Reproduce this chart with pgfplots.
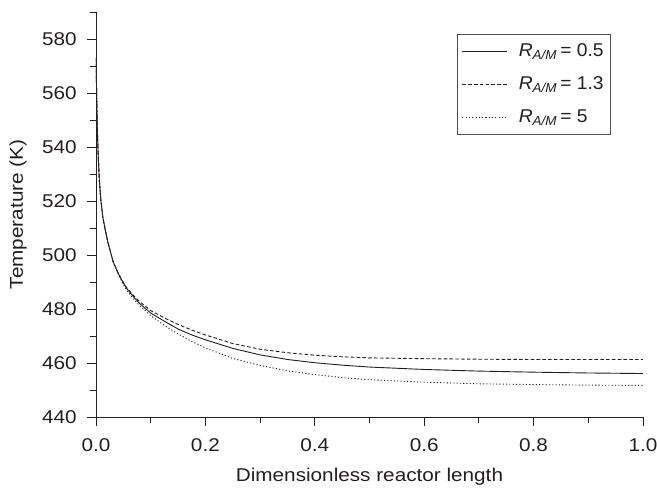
\documentclass[border=0pt]{standalone}
\usepackage{pgfplots}
\pgfplotsset{compat=1.18}
\usepackage{fontspec}
\setmainfont{Liberation Sans}[FakeStretch=1.12]
\newfontfamily\legfont{Liberation Sans}[FakeStretch=1.04]
\definecolor{ink}{HTML}{231F20}
\newcommand{\fs}{\fontsize{18.5}{22}\selectfont}
\begin{document}
\fs
\begin{tikzpicture}
\useasboundingbox (-96pt,-72pt) rectangle (561pt,417pt);
\begin{axis}[
  at={(0,0)}, anchor=south west,
  scale only axis, width=547pt, height=405pt,
  xmin=0, xmax=1, ymin=440, ymax=590,
  axis x line*=bottom, axis y line*=left,
  axis line style={line width=0.9pt, color=ink, -},
  xtick={0,0.2,0.4,0.6,0.8,1.0},
  ytick={440,460,480,500,520,540,560,580},
  minor tick num=0,
  extra x ticks={0.1,0.3,0.5,0.7,0.9}, extra x tick labels={},
  extra y ticks={450,470,490,510,530,550,570,590}, extra y tick labels={},
  extra tick style={major tick length=6pt, xtick align=outside, ytick align=outside},
  tick align=outside,
  major tick length=9pt,
  every tick/.style={line width=0.9pt, color=ink},
  xticklabel style={yshift=-6pt, /pgf/number format/.cd, fixed, fixed zerofill, precision=1},
  yticklabel style={xshift=-4pt},
  /pgf/number format/assume math mode=true,
  ticklabel style={color=ink, font=\fs},
  xlabel={Dimensionless reactor length},
  ylabel={Temperature (K)},
  label style={color=ink, font=\fs},
  xlabel style={at={(axis description cs:0.5,0)}, anchor=base, yshift=-65pt},
  ylabel style={at={(axis description cs:-0.1426,0.5)}, anchor=center, rotate=0},
  legend style={at={(0.9415,0.9457)}, anchor=north east, draw=ink!80, line width=0.8pt,
    fill=white, font=\legfont\fontsize{18.5}{22}\selectfont, text=ink,
    inner xsep=5pt, inner ysep=7pt, row sep=13.5pt,
    /tikz/every odd column/.append style={column sep=9pt}},
  legend cell align=left,
  legend image code/.code={\draw[#1] (0pt,0pt) -- (45pt,0pt);},
]
\addplot[ink, line width=0.9pt] coordinates {
(0,573) (0.001,562) (0.0024,547) (0.004,537) (0.006,528) (0.009,520) (0.0125,514)
(0.0165,509.7) (0.022,504.5) (0.0316,497.4) (0.04,493.5) (0.048,490.3) (0.056,487.6)
(0.07,484.2) (0.08,482.0) (0.1,478.5) (0.129,475.0) (0.15,472.6) (0.175,470.4)
(0.2,468.6) (0.25,465.4) (0.3,463.0) (0.35,461.3) (0.4,460.1) (0.45,459.2)
(0.5,458.5) (0.6,457.6) (0.7,457.0) (0.8,456.6) (0.9,456.3) (1.0,456.1)
};
\addlegendentry{\textit{R}\textsubscript{\textit{A/M}}\,= 0.5}
\addplot[ink, line width=0.9pt, dash pattern=on 3.6pt off 2.2pt] coordinates {
(0,573) (0.001,562) (0.0024,547) (0.004,537) (0.006,528) (0.009,520) (0.0125,514)
(0.0165,509.7) (0.022,504.5) (0.0316,497.4) (0.04,493.6) (0.048,490.5) (0.056,487.9)
(0.07,484.7) (0.08,482.7) (0.1,479.4) (0.129,476.3) (0.15,474.3) (0.175,472.2)
(0.2,470.4) (0.25,467.2) (0.3,465.1) (0.35,463.8) (0.4,462.9) (0.45,462.3)
(0.5,461.9) (0.6,461.6) (0.7,461.4) (0.8,461.3) (0.9,461.3) (1.0,461.3)
};
\addlegendentry{\textit{R}\textsubscript{\textit{A/M}}\,= 1.3}
\addplot[ink, line width=0.9pt, dash pattern=on 1.1pt off 2.2pt] coordinates {
(0,573) (0.001,562) (0.0024,547) (0.004,537) (0.006,528) (0.009,520) (0.0125,514)
(0.0165,509.7) (0.022,504.5) (0.0316,497.2) (0.04,493.2) (0.048,489.8) (0.056,487.0)
(0.07,483.4) (0.08,481.2) (0.1,477.5) (0.129,473.4) (0.15,470.8) (0.175,468.0)
(0.2,465.6) (0.25,461.7) (0.3,459.1) (0.35,457.1) (0.4,455.7) (0.45,454.6)
(0.5,453.8) (0.6,452.9) (0.7,452.3) (0.8,452.0) (0.9,451.8) (1.0,451.7)
};
\addlegendentry{\textit{R}\textsubscript{\textit{A/M}}\,= 5}
\end{axis}
\end{tikzpicture}
\end{document}
